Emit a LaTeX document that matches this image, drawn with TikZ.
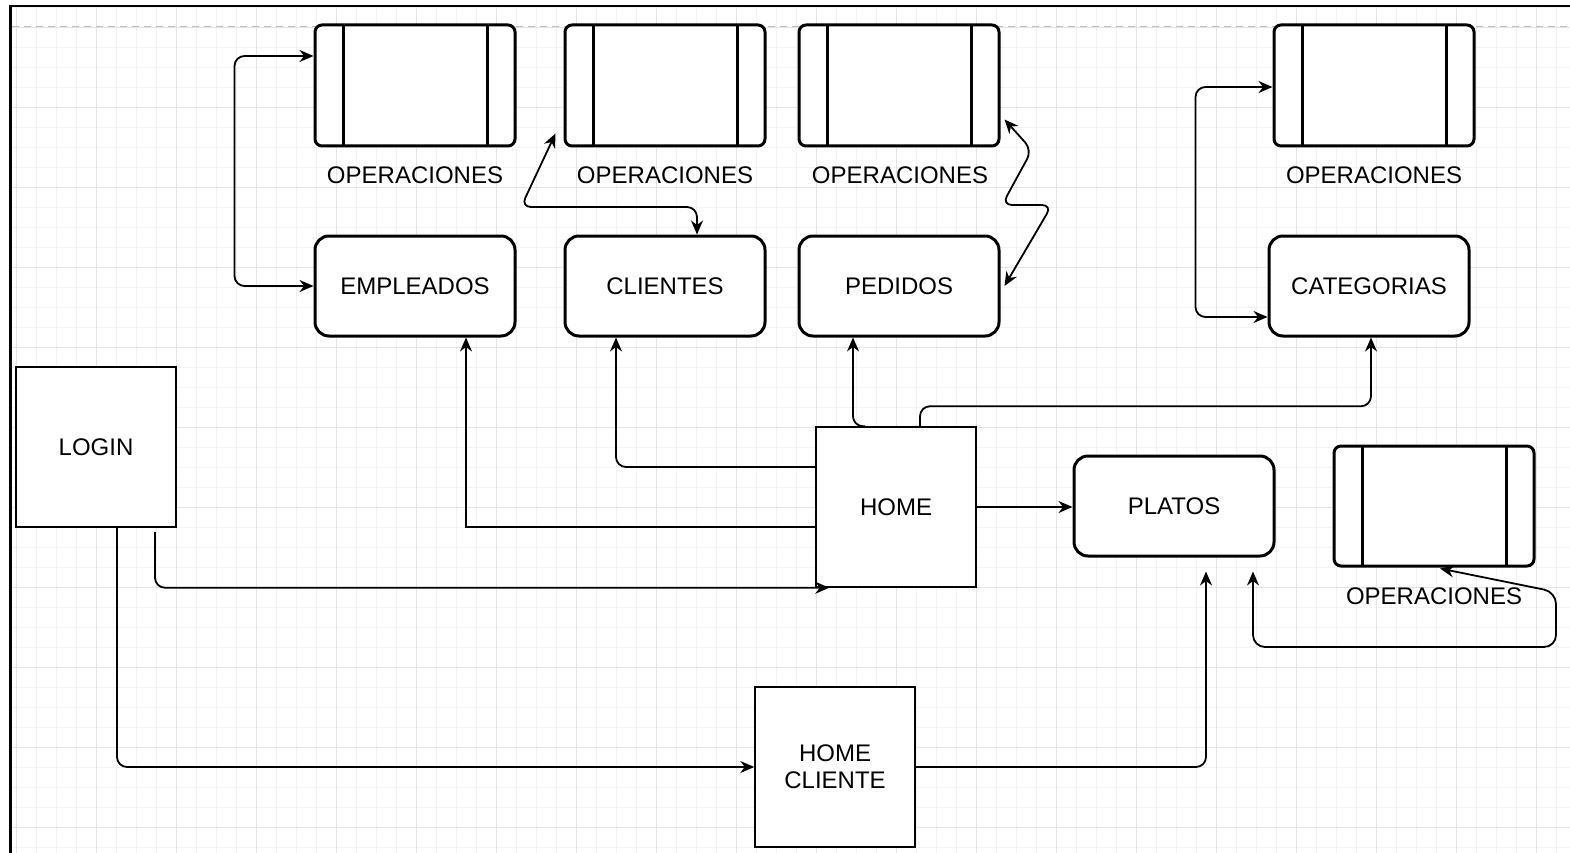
\documentclass[tikz,border=0pt]{standalone}
\usepackage{fontspec}
\setmainfont{Liberation Sans}
\usetikzlibrary{arrows.meta}

\definecolor{gridminor}{HTML}{F3F3F3}
\definecolor{gridmajor}{HTML}{E4E4E4}
\definecolor{pageline}{HTML}{BDBDBD}

\tikzset{
  boxtext/.style={font=\fontsize{24}{27}\selectfont, text=black, align=center},
  screen/.style={boxtext, draw, line width=3pt, rounded corners=14pt, fill=white,
    minimum width=200pt, minimum height=100pt, inner sep=0pt},
  opsbox/.style={draw, line width=3pt, rounded corners=7pt, fill=white,
    minimum width=200pt, minimum height=121pt, inner sep=0pt,
    path picture={
      \draw[line width=3pt]
        ([xshift=28pt]path picture bounding box.north west) -- ([xshift=28pt]path picture bounding box.south west)
        ([xshift=-28pt]path picture bounding box.north east) -- ([xshift=-28pt]path picture bounding box.south east);}},
  oplabel/.style={boxtext, inner sep=0pt},
  page/.style={boxtext, draw, line width=1.5pt, fill=white,
    minimum width=160pt, minimum height=160pt, inner sep=0pt},
  link/.style={line width=1.8pt},
}

\begin{document}
\begin{tikzpicture}[x=1pt, y=-1pt, >={Stealth[length=14pt,width=12pt,inset=4.5pt]}]
\useasboundingbox (0,0) rectangle (1570,853);
\fill[white] (0,0) rectangle (1570,853);

% background grid
\begin{scope}
  \clip (12,7) rectangle (1570,853);
  \foreach \gx in {0,...,78} {
    \draw[gridminor, line width=1pt] (16.7+20*\gx,7) -- (16.7+20*\gx,853);
  }
  \foreach \gy in {0,...,42} {
    \draw[gridminor, line width=1pt] (12,7.5+20*\gy) -- (1570,7.5+20*\gy);
  }
  \foreach \gx in {0,...,19} {
    \draw[gridmajor, line width=1.3pt] (16.7+80*\gx,7) -- (16.7+80*\gx,853);
  }
  \foreach \gy in {0,...,10} {
    \draw[gridmajor, line width=1.3pt] (12,27.5+80*\gy) -- (1570,27.5+80*\gy);
  }
\end{scope}

% page break line
\draw[pageline, line width=1pt, dash pattern=on 7pt off 5pt] (12,27) -- (1570,27);

% frame
\draw[line width=2.5pt] (10.5,853) -- (10.5,6) -- (1570,6);

% operation panels
\node[opsbox] (p1) at (415,85.5) {};
\node[opsbox] (p2) at (665,85.5) {};
\node[opsbox] (p3) at (899,85.5) {};
\node[opsbox] (p4) at (1374,85.5) {};
\node[opsbox, minimum height=120pt] (p5) at (1434,506) {};

\node[oplabel] (l1) at (415,175) {OPERACIONES};
\node[oplabel] (l2) at (665,175) {OPERACIONES};
\node[oplabel] (l3) at (900,175) {OPERACIONES};
\node[oplabel] (l4) at (1374,175) {OPERACIONES};
\node[oplabel] (l5) at (1434,596) {OPERACIONES};

% screens
\node[screen] (emp) at (415,286) {EMPLEADOS};
\node[screen] (cli) at (665,286) {CLIENTES};
\node[screen] (ped) at (899,286) {PEDIDOS};
\node[screen] (cat) at (1369,286) {CATEGORIAS};
\node[screen] (pla) at (1174,506) {PLATOS};

% pages
\node[page] (login) at (96,447) {LOGIN};
\node[page] (home) at (896,507) {HOME};
\node[page] (homecli) at (835,767) {HOME\\CLIENTE};

% connectors
\draw[link,<->,rounded corners=10pt] ([yshift=29.5pt]p1.west) -- ++(-79,0) |- (emp.west);
\draw[link,<->,rounded corners=10pt] ([xshift=-8pt,yshift=14pt]p2.south west) -- (521,207) -- (697,207) -- ([xshift=32pt]cli.north);
\draw[link,<->,rounded corners=10pt] ([xshift=4pt,yshift=28pt]p3.south east) -- (1032,150) -- (1002,205) -- (1052,205) -- ([xshift=4pt]ped.east);
\draw[link,<->,rounded corners=10pt] ([yshift=-1.5pt]p4.west) -- ++(-77,0) |- ([yshift=-31pt]cat.west);

\draw[link,->] ([yshift=-20pt]home.west) -| ([xshift=51pt]emp.south);
\draw[link,->,rounded corners=10pt] ([yshift=40pt]home.west) -| ([xshift=-49pt]cli.south);
\draw[link,->,rounded corners=10pt] ([xshift=-31pt]home.north) -| ([xshift=-46pt]ped.south);
\draw[link,->,rounded corners=10pt] ([xshift=24pt]home.north) -- ++(0,-20) -| ([xshift=2pt]cat.south);
\draw[link,->] (home.east) -- (home.east -| pla.west);

\draw[link,->,rounded corners=10pt] ([xshift=59pt,yshift=-4pt]login.south) |- ([xshift=14pt]home.south west);
\draw[link,->,rounded corners=10pt] ([xshift=21pt]login.south) |- (homecli.west);
\draw[link,->,rounded corners=10pt] (homecli.east) -| ([xshift=32pt,yshift=-14pt]pla.south);
\draw[link,<->,rounded corners=12pt] ([xshift=6pt,yshift=-1pt]p5.south) -- (1556,592) -- (1556,647) -- (1253,647) -- ([xshift=79pt,yshift=-14pt]pla.south);
\end{tikzpicture}
\end{document}
